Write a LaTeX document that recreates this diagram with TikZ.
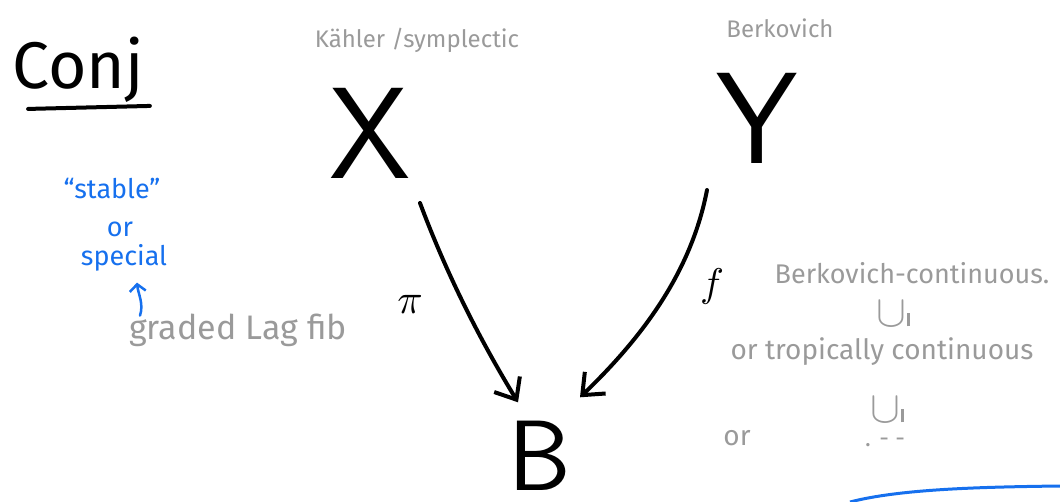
\documentclass[tikz,border=0pt]{standalone}
\usepackage{fontspec}
\setmainfont{Fira Sans}
\usetikzlibrary{arrows.meta,calc}
\definecolor{pen}{HTML}{000000}
\definecolor{graypen}{HTML}{9A9A9A}
\definecolor{bluepen}{HTML}{1670EE}
\tikzset{
  gtext/.style={text=graypen, inner sep=0pt, font=\fontsize{24}{26}\selectfont},
  btext/.style={text=bluepen, inner sep=0pt, font=\fontsize{27}{29}\selectfont},
  bigletter/.style={text=pen, inner sep=0pt, font=\sffamily\fontsize{130}{130}\selectfont},
  maplabel/.style={text=pen, inner sep=0pt},
  maparrow/.style={draw=pen, line width=4pt, line cap=round, line join=round,
    -{Straight Barb[length=18pt,width=30pt,line width=4pt]}},
  bluearrow/.style={draw=bluepen, line width=2.5pt, line cap=round,
    -{Straight Barb[length=7pt,width=16pt,line width=2.5pt]}},
}
\newcommand{\subsym}{\scalebox{1.8}{$\cup$}\kern1pt\rule{2.2pt}{13pt}}
\begin{document}
\begin{tikzpicture}[x=1pt,y=-1pt]
\useasboundingbox (0,0) rectangle (1060,502);
% title
\node[maplabel, font=\fontsize{66}{68}\selectfont] (conj) at (78,70) {Conj};
\draw[line width=4pt, line cap=round] ($(conj.south west)+(16,6)$) coordinate (ul1) -- ($(conj.south east)+(6,3)$) coordinate (ul2);
% top labels
\node[gtext] (kahler) at (417,40) {Kähler /symplectic};
\node[gtext] (berk) at (780,28) {Berkovich};
% big letters
\node[bigletter] (xnode) at (370,133) {X};
\node[bigletter] (ynode) at (757,118) {Y};
\node[bigletter, font=\sffamily\fontsize{100}{100}\selectfont, anchor=base] (bnode) at (540,490) {B};
% maps
\draw[maparrow] ($(xnode)+(50,70)$) .. controls ($(xnode)+(80,150)$) and ($(xnode)+(115,215)$) .. ($(bnode.center)+(-22,-53)$);
\draw[maparrow] ($(ynode)+(-50,72)$) .. controls ($(ynode)+(-65,150)$) and ($(ynode)+(-110,215)$) .. ($(bnode.center)+(40,-58)$);
\node[maplabel] (pi) at (410,304) {\scalebox{4.2}{$\pi$}};
\node[maplabel] (fnode) at (712,287) {\scalebox{4}{$f$}};
% left notes
\node[btext] (stable) at (112,188) {“stable”};
\node[btext] (or1) at (120,229) {or};
\node[btext] (special) at (124,258) {special};
\node[gtext, font=\fontsize{34}{36}\selectfont] (graded) at (238,330) {graded Lag fib};
\draw[bluearrow] ($(special.south)+(16,44)$) .. controls ($(special.south)+(20,32)$) and ($(special.south)+(14,22)$) .. ($(special.south)+(13,11)$);
% right notes
\node[gtext, font=\fontsize{27}{29}\selectfont] (bc) at (912,273) {Berkovich-continuous.};
\node[gtext] (sub1) at (893,314) {\subsym};
\node[gtext, font=\fontsize{28}{30}\selectfont] (trop) at (882,352) {or tropically continuous};
\node[gtext] (sub2) at (887,410) {\subsym};
\node[gtext, font=\fontsize{28}{30}\selectfont] (or2) at (737,438) {or};
\node[gtext] (dots) at (885,442) {. - -};
% blue stroke at bottom
\draw[bluepen, line width=3pt] (850,502) .. controls (900,489) and (980,487) .. (1060,486);
\end{tikzpicture}
\end{document}
